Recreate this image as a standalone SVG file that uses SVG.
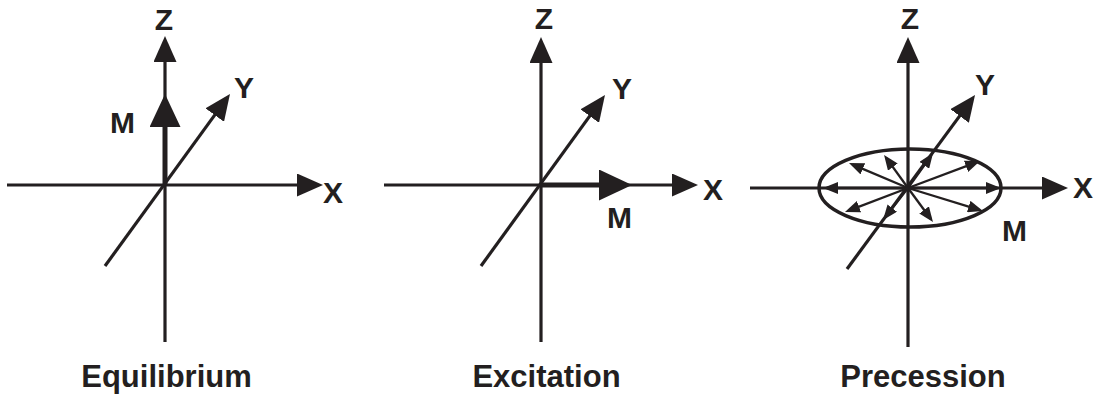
<svg xmlns="http://www.w3.org/2000/svg" width="1100" height="401" viewBox="0 0 1100 401">
<style>
.ax{stroke:#231f20;stroke-width:3.2;fill:none;marker-end:url(#ah)}
.mg{stroke:#231f20;stroke-width:5;fill:none;marker-end:url(#mh)}
.sm{stroke:#231f20;stroke-width:2.3;fill:none;marker-end:url(#sh)}
.lb{font-family:"Liberation Sans",Arial,sans-serif;font-weight:bold;font-size:30px;fill:#231f20}
.tt{font-family:"Liberation Sans",Arial,sans-serif;font-weight:bold;font-size:31px;fill:#231f20;text-anchor:middle}
</style>
<defs>
<marker id="ah" markerUnits="userSpaceOnUse" viewBox="0 0 26 23" markerWidth="26" markerHeight="23" refX="16" refY="11.5" orient="auto"><path d="M0,0 L26,11.5 L0,23 Z" fill="#231f20"/></marker>
<marker id="mh" markerUnits="userSpaceOnUse" viewBox="0 0 33 31" markerWidth="33" markerHeight="31" refX="23" refY="15.5" orient="auto"><path d="M0,0 L33,15.5 L0,31 Z" fill="#231f20"/></marker>
<marker id="sh" markerUnits="userSpaceOnUse" viewBox="0 0 15 12" markerWidth="15" markerHeight="12" refX="11" refY="6" orient="auto"><path d="M0,0 L15,6 L0,12 Z" fill="#231f20"/></marker>
</defs>

<g id="equilibrium">
<g id="connectors-1">
<line class="ax" x1="165" y1="342" x2="165" y2="46"/>
<line class="ax" x1="7" y1="185" x2="313" y2="185"/>
<line class="ax" x1="105" y1="266" x2="224.1" y2="102.1"/>
<line class="mg" x1="165" y1="185" x2="165" y2="104"/>
</g>
<text class="lb" x="164" y="30" text-anchor="middle">Z</text>
<text class="lb" x="234" y="98">Y</text>
<text class="lb" x="323" y="203">X</text>
<text class="lb" x="110" y="133">M</text>
<text class="tt" x="166.5" y="387">Equilibrium</text>
</g>

<g id="excitation">
<g id="connectors-2">
<line class="ax" x1="541" y1="342" x2="541" y2="47"/>
<line class="ax" x1="384" y1="185" x2="688" y2="185"/>
<line class="ax" x1="481" y1="266" x2="599.1" y2="103.1"/>
<line class="mg" x1="541" y1="185" x2="622" y2="185"/>
</g>
<text class="lb" x="544" y="29" text-anchor="middle">Z</text>
<text class="lb" x="612" y="99">Y</text>
<text class="lb" x="703" y="200">X</text>
<text class="lb" x="607" y="228">M</text>
<text class="tt" x="546.5" y="387">Excitation</text>
</g>

<g id="precession">
<g id="connectors-3">
<line class="ax" x1="908" y1="347" x2="908" y2="47"/>
<line class="ax" x1="750" y1="188" x2="1058" y2="188"/>
<line class="ax" x1="847" y1="269" x2="969.1" y2="103.1"/>
<ellipse cx="910" cy="188" rx="91" ry="39" fill="none" stroke="#231f20" stroke-width="3.5"/>
<line class="sm" x1="908" y1="188" x2="827" y2="188"/>
<line class="sm" x1="908" y1="188" x2="852.7" y2="164.6"/>
<line class="sm" x1="908" y1="188" x2="886.4" y2="158.2"/>
<line class="sm" x1="908" y1="188" x2="930.7" y2="156.3"/>
<line class="sm" x1="908" y1="188" x2="976.3" y2="162.4"/>
<line class="sm" x1="908" y1="188" x2="997" y2="188"/>
<line class="sm" x1="908" y1="188" x2="979.2" y2="209.8"/>
<line class="sm" x1="908" y1="188" x2="930.6" y2="218.8"/>
<line class="sm" x1="908" y1="188" x2="885.5" y2="216.8"/>
<line class="sm" x1="908" y1="188" x2="848.7" y2="210.6"/>
</g>
<text class="lb" x="910" y="29" text-anchor="middle">Z</text>
<text class="lb" x="975" y="95">Y</text>
<text class="lb" x="1073" y="198">X</text>
<text class="lb" x="1002" y="241">M</text>
<text class="tt" x="923" y="387">Precession</text>
</g>
</svg>
